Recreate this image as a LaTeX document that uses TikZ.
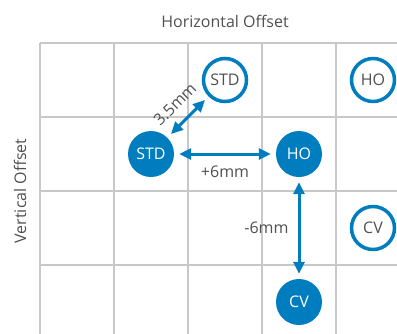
\documentclass[tikz,border=0pt]{standalone}
\usepackage{fontspec}
\setmainfont{Open Sans}
\usetikzlibrary{arrows.meta, positioning}
\definecolor{offblue}{RGB}{0,125,190}
\definecolor{labelgray}{RGB}{80,80,80}
\definecolor{gridgray}{RGB}{200,200,200}

\begin{document}
\begin{tikzpicture}[
            x=74pt, y=74pt,
            every node/.style={font=\fontsize{16}{19}\selectfont, text=labelgray, align=center},
            gridline/.style={gridgray, line width=2pt},
            filled/.style={circle, fill=offblue, text=white, minimum size=46pt, inner sep=0pt},
            ring/.style={circle, draw=offblue, line width=3.5pt, fill=white, minimum size=43pt, inner sep=0pt},
            arrow/.style={{Triangle[length=12pt, width=11pt]}-{Triangle[length=12pt, width=11pt]}, offblue, line width=3pt, shorten >=5pt, shorten <=5pt}
        ]
        \useasboundingbox (-40pt,-290pt) rectangle (357pt,43pt);

        % Grid
        \foreach \i in {0,...,4}
            \draw[gridline] (\i,0) -- (\i,-4);
        \foreach \j in {0,...,3}
            \draw[gridline] (0,-\j) -- (5,-\j);

        % Axis titles
        \node (hoff) at (2.5,0.29) {Horizontal Offset};
        \node[rotate=90] (voff) at (-0.27,-2) {Vertical Offset};

        % Nodes
        \node[filled] (std) at (1.5,-1.5) {STD};
        \node[ring] (stdring) at (2.5,-0.5) {STD};
        \node[filled] (ho) at (3.5,-1.5) {HO};
        \node[ring] (horing) at (4.5,-0.5) {HO};
        \node[ring] (cvring) at (4.5,-2.5) {CV};
        \node[filled] (cv) at (3.5,-3.5) {CV};

        % Connections
        \draw[arrow] (std) -- node[sloped, above=11pt, inner sep=0pt] {3.5mm} (stdring);
        \draw[arrow] (std) -- node[below=10pt, inner sep=0pt] {+6mm} (ho);
        \draw[arrow] (ho) -- node[left=9pt, inner sep=0pt] {-6mm} (cv);

    \end{tikzpicture}
\end{document}
